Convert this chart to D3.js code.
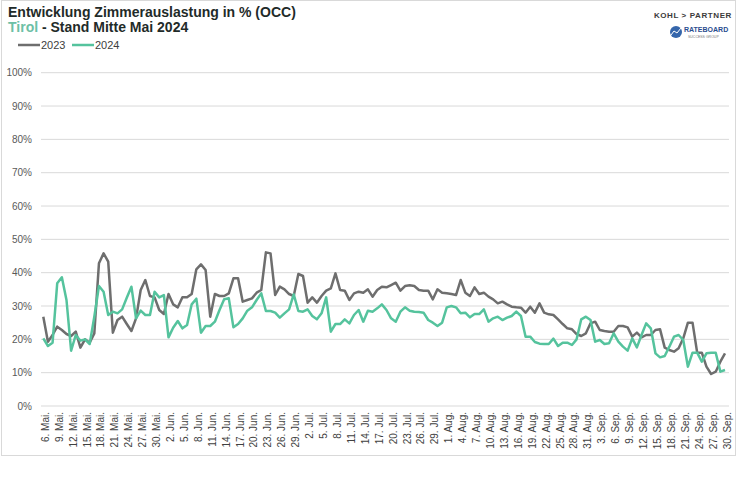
<!DOCTYPE html>
<html>
<head>
<meta charset="utf-8">
<script src="https://cdn.jsdelivr.net/npm/d3@7"></script>
<style>
  body { margin: 0; background: #fff; }
  svg { font-family: "Liberation Sans", Arial, sans-serif; }
</style>
</head>
<body>
<div id="chart"></div>
<script>
// daily values 6. Mai - 30. Sep
var occ2023 = [
  26.8, 19.3, 21.3, 23.8, 22.8, 21.6, 21, 22.3, 17.5, 20, 19, 21.8, 42.8, 45.8, 43.3, 22, 25.8, 26.8, 24.6, 22.5,
  26.3, 34.8, 37.8, 33, 32.6, 28.8, 27.6, 33.6, 30.5, 29.6, 32.6, 32.6, 33.6, 41, 42.5, 40.8, 26.8, 33.6, 33, 33,
  33.8, 38.3, 38.3, 31.3, 31.8, 32.3, 34, 34.8, 46.1, 45.8, 33.3, 35.8, 35, 33.6, 33, 39.6, 39, 31,
  32.6, 31, 33, 34.6, 35.3, 39.8, 34.8, 34.6, 31.8, 33.8, 34.3, 34, 35, 32.8, 34.8, 35.8, 35.6, 36.3, 37, 34.6,
  36, 36.2, 36, 34.8, 34.6, 34.6, 32, 35, 34,
  33.8, 33.6, 33.3, 37.8, 34, 33, 35.6, 33.6, 34, 32.8, 32, 30.8, 31.3, 30.5, 29.8, 29.6, 29.5, 28, 29.8, 28,
  30.8, 28, 27.5, 27.3, 26, 24.6, 23.3, 23, 21.6,
  21, 21.8, 24.8, 25.3, 22.8, 22.5, 22.3, 22.3, 24, 24, 23.6, 20.8, 22, 20.6, 21.3, 21.3, 22.8, 23, 17.5, 16.8,
  16.3, 17.3, 20.3, 25, 25, 16, 16, 11.8, 9.6, 10.3, 13.3, 15.8
];
var occ2024 = [
  20.3, 18, 19, 36.8, 38.6, 31.8, 16.6, 21.3, 19.6, 20, 18.6, 26.8, 36, 34.3, 27.3, 28.3, 27.8, 29, 32.5, 35.8,
  26.3, 28.6, 27.3, 27.3, 34.3, 32.6, 33.3, 20.6, 23.5, 25.5, 23.3, 24.3, 30.5, 32.2, 22, 24, 24, 25.3, 28.8, 32,
  32.3, 23.6, 24.6, 26.3, 28.6, 29.6, 31.8, 33.8, 28.5, 28.5, 28, 26.5, 27.8, 29, 33.5, 28.5, 28.3, 29,
  27, 26, 27.8, 32.6, 22.3, 24.6, 24.6, 26, 24.8, 27.3, 28.8, 25.3, 28.6, 28.3, 29.3, 30.5, 28.8, 26.3, 25.3, 28.3,
  29.6, 28.6, 28.3, 28.2, 28, 25.8, 25, 24, 25,
  29.6, 30, 29.6, 27.8, 28, 26.6, 27.6, 27.6, 29, 25.3, 26.3, 26.8, 25.8, 26.5, 27, 28.3, 27, 20.8, 20.8, 19.2,
  18.7, 18.6, 18.6, 20.2, 18, 19, 19, 18.3, 20,
  26, 26.8, 25.8, 19.3, 19.8, 18.6, 18.8, 21.8, 19.3, 17.8, 16.6, 20.3, 17.6, 21.3, 24.8, 23.3, 15.8, 14.6, 15, 17.8,
  20.8, 21.3, 19.8, 11.8, 16, 16, 13.3, 15.8, 16, 16, 10.3, 10.8
];
var monthNames = ["Jan.", "Feb.", "Mär.", "Apr.", "Mai.", "Jun.", "Jul.", "Aug.", "Sep.", "Okt.", "Nov.", "Dez."];
var yTicks = [0, 10, 20, 30, 40, 50, 60, 70, 80, 90, 100];
var seriesNames = ["2023", "2024"];
var colors = ["#6e6e6e", "#55c39d"];

var days = d3.timeDay.range(new Date(2024, 4, 6), new Date(2024, 9, 1));
var fmt = (d) => d.getDate() + ". " + monthNames[d.getMonth()];

var w = 740, h = 493;

var svg = d3.select("#chart")
  .append("svg")
  .attr("width", w)
  .attr("height", h);

// frame
svg.append("rect")
  .attr("x", 1.5)
  .attr("y", 0.5)
  .attr("width", 734)
  .attr("height", 455)
  .attr("fill", "white")
  .attr("stroke", "#d9d9d9");

// title
svg.append("text")
  .attr("x", 8)
  .attr("y", 17)
  .attr("font-size", "14px")
  .attr("font-weight", "bold")
  .attr("fill", "#1f2b29")
  .text("Entwicklung Zimmerauslastung in % (OCC)");

var sub = svg.append("text")
  .attr("x", 8)
  .attr("y", 32)
  .attr("font-size", "14px")
  .attr("font-weight", "bold")
  .attr("fill", "#1f2b29");
sub.append("tspan").attr("fill", "#6cc0a5").text("Tirol");
sub.append("tspan").text(" - Stand Mitte Mai 2024");

// logo
svg.append("text")
  .attr("x", 732)
  .attr("y", 18)
  .attr("text-anchor", "end")
  .attr("font-size", "8px")
  .attr("font-weight", "bold")
  .attr("letter-spacing", "0.6px")
  .attr("fill", "#3b3b3b")
  .text("KOHL > PARTNER");
svg.append("circle")
  .attr("cx", 676)
  .attr("cy", 32)
  .attr("r", 6)
  .attr("fill", "#3566ab");
svg.append("path")
  .attr("d", "M671,35 L674,31 L677,33 L681,28")
  .attr("fill", "none")
  .attr("stroke", "white")
  .attr("stroke-width", 1);
svg.append("text")
  .attr("x", 684)
  .attr("y", 32)
  .attr("font-size", "7px")
  .attr("font-weight", "bold")
  .attr("fill", "#2a4d8f")
  .text("RATEBOARD");
svg.append("text")
  .attr("x", 688)
  .attr("y", 38)
  .attr("font-size", "3.5px")
  .attr("fill", "#777")
  .text("SUCCESS GROUP");

// legend
seriesNames.forEach((name, k) => {
  var lx = 18 + k * 54;
  svg.append("line")
    .attr("x1", lx).attr("x2", lx + 22)
    .attr("y1", 45).attr("y2", 45)
    .attr("stroke", colors[k])
    .attr("stroke-width", 2.5);
  svg.append("text")
    .attr("x", lx + 23)
    .attr("y", 49)
    .attr("font-size", "11px")
    .attr("fill", "#404040")
    .text(name);
});

// scales
var xScale = d3.scalePoint()
  .domain(d3.range(days.length))
  .range([43.3, 725]);
var yScale = d3.scaleLinear()
  .domain([0, 100])
  .range([406, 72.7]);

// gridlines + y labels
svg.selectAll(".grid")
  .data(yTicks)
  .enter()
  .append("line")
  .attr("class", "grid")
  .attr("x1", 41)
  .attr("x2", 729)
  .attr("y1", (d) => yScale(d))
  .attr("y2", (d) => yScale(d))
  .attr("stroke", "#d9d9d9")
  .attr("stroke-width", 1);

svg.selectAll(".ylab")
  .data(yTicks)
  .enter()
  .append("text")
  .attr("class", "ylab")
  .attr("x", 32)
  .attr("y", (d) => yScale(d) + 3.5)
  .attr("text-anchor", "end")
  .attr("font-size", "10px")
  .attr("fill", "#595959")
  .text((d) => d + "%");

// x labels every 3 days
var xIdx = d3.range(0, days.length, 3);
svg.selectAll(".xlab")
  .data(xIdx)
  .enter()
  .append("text")
  .attr("class", "xlab")
  .attr("transform", (i) => "translate(" + (xScale(i) + 5.5) + ",412) rotate(-90)")
  .attr("text-anchor", "end")
  .attr("font-size", "10px")
  .attr("fill", "#404040")
  .text((i) => fmt(days[i]));

// lines
var line = d3.line()
  .x((d, i) => xScale(i))
  .y((d) => yScale(d));

[occ2023, occ2024].forEach((vals, k) => {
  svg.append("path")
    .datum(vals)
    .attr("d", line)
    .attr("fill", "none")
    .attr("stroke", colors[k])
    .attr("stroke-width", 2.5)
    .attr("stroke-linejoin", "round");
});
</script>
</body>
</html>
